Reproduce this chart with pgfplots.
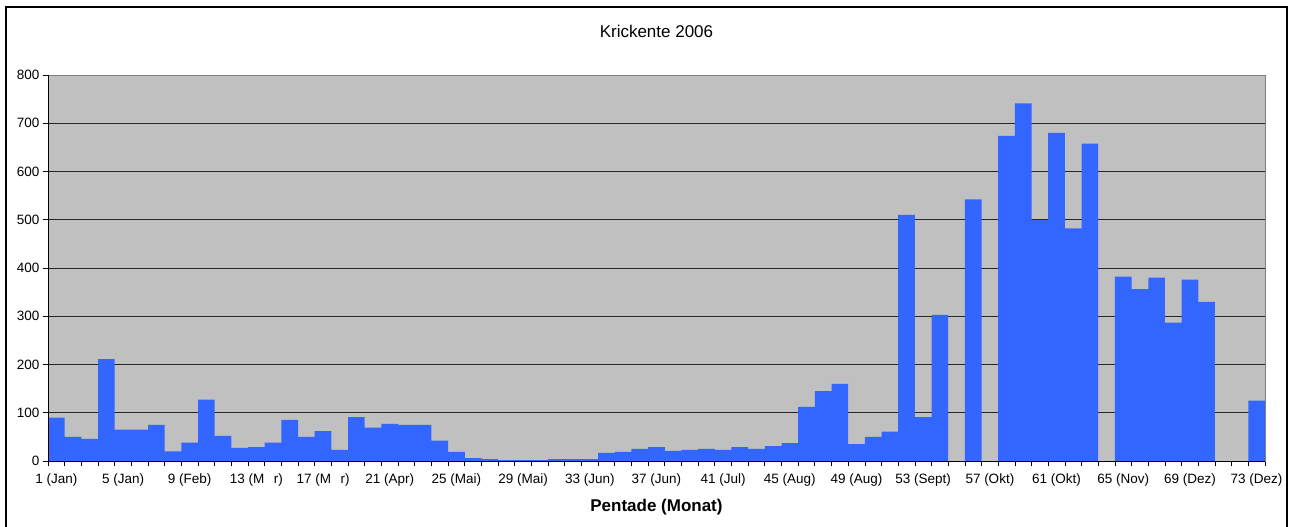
\documentclass[border=0pt]{standalone}
\usepackage{fontspec}
\setmainfont{Liberation Sans}
\usepackage{pgfplots}
\pgfplotsset{compat=1.18}
\definecolor{barblue}{HTML}{3366FF}
\definecolor{plotgray}{HTML}{C0C0C0}
\definecolor{edgegray}{HTML}{808080}

\begin{document}
\begin{tikzpicture}
\useasboundingbox (-48pt,-66pt) rectangle (1247pt,461pt);
\begin{axis}[
  at={(0pt,0pt)}, anchor=south west,
  width=1217pt, height=386pt, scale only axis,
  ybar, bar width=1,
  xmin=0.5, xmax=73.5,
  ymin=0, ymax=800,
  axis background/.style={fill=plotgray},
  axis line style={draw=edgegray, line width=0.8pt},
  tick align=outside,
  xtick pos=lower, ytick pos=left,
  major tick length=5pt,
  tick style={black, line width=0.7pt},
  xtick={0.5,1.5,...,73.5},
  xticklabels={},
  extra x ticks={1,5,...,73},
  extra x tick labels={1 (Jan),5 (Jan),9 (Feb),13 (M\hspace{0.7em}r),17 (M\hspace{0.7em}r),21 (Apr),25 (Mai),29 (Mai),33 (Jun),37 (Jun),41 (Jul),45 (Aug),49 (Aug),53 (Sept),57 (Okt),61 (Okt),65 (Nov),69 (Dez),73 (Dez)},
  extra x tick style={tick style={draw=none}, tick label style={yshift=-4pt}},
  ytick={0,100,...,800},
  ymajorgrids=true,
  grid style={black!85, line width=0.8pt},
  tick label style={font=\fontsize{13.5}{16}\selectfont},
  /pgf/number format/assume math mode=true,
  title={Krickente 2006},
  title style={at={(axis description cs:0.5,1)}, anchor=center, yshift=38pt, font=\fontsize{17}{20}\selectfont},
  xlabel={Pentade (Monat)},
  xlabel style={at={(axis description cs:0.5,0)}, anchor=center, yshift=-46pt, font=\fontsize{17}{20}\selectfont\bfseries},
]
\addplot[fill=barblue, draw=none] coordinates {
 (1,90) (2,50) (3,46) (4,211) (5,65) (6,65) (7,75) (8,20) (9,38) (10,127)
 (11,52) (12,27) (13,29) (14,38) (15,85) (16,50) (17,62) (18,23) (19,91) (20,69)
 (21,77) (22,75) (23,75) (24,42) (25,19) (26,6) (27,4) (28,2) (29,2) (30,2)
 (31,4) (32,4) (33,4) (34,17) (35,19) (36,25) (37,29) (38,21) (39,23) (40,25)
 (41,23) (42,29) (43,25) (44,31) (45,37) (46,112) (47,145) (48,160) (49,35) (50,50)
 (51,61) (52,510) (53,91) (54,303) (56,542) (58,674) (59,741) (60,499)
 (61,680) (62,482) (63,658) (65,382) (66,356) (67,380) (68,287) (69,376) (70,330)
 (73,125)
};
\draw[black, line width=0.9pt] (rel axis cs:0,1) -- (rel axis cs:0,0) -- (rel axis cs:1,0);
\end{axis}
\draw[black, line width=1.5pt] (-42pt,-80pt) -- (-42pt,454pt) -- (1239pt,454pt) -- (1239pt,-80pt);
\end{tikzpicture}
\end{document}
